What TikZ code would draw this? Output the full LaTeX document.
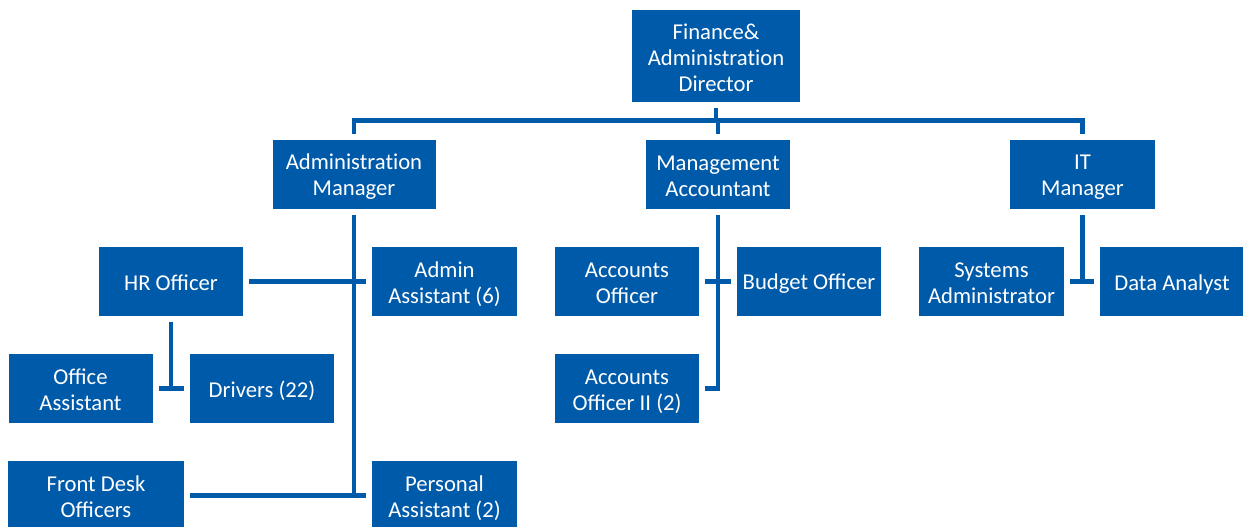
\documentclass[tikz,border=0pt]{standalone}
\usepackage{fontspec}
\setmainfont{Carlito}
\usetikzlibrary{calc}
\definecolor{orgblue}{RGB}{0,90,170}
\newcommand{\Adm}{Administrat\kern0pt ion}
\newcommand{\topstr}{\rule{0pt}{15.5pt}}
\newcommand{\botstr}{\rule[-1.5pt]{0pt}{1.5pt}}
\tikzset{
  box/.style={fill=orgblue, draw=none, text=white, align=center, inner sep=0pt,
    minimum width=108pt, minimum height=51.75pt,
    font=\fontsize{17}{19.6}\selectfont},
  conn/.style={draw=orgblue, line width=3.5pt},
  gap/.style={shorten <=4.5pt, shorten >=4.5pt},
  gapstart/.style={shorten <=4.5pt},
  gapend/.style={shorten >=4.5pt}
}
\begin{document}
\begin{tikzpicture}[x=0.75pt,y=-0.75pt]
\clip (0,0) rectangle (1243,527);
\fill[white] (0,0) rectangle (1243,527);
% nodes
\node[box, minimum width=126pt, minimum height=69pt] (dir) at (716,56) {\topstr Finance\&\\\Adm\\Director\botstr};
\node[box, minimum width=122.25pt] (am) at (354,174.5) {\topstr\Adm\\Manager\botstr};
\node[box] (ma) at (718,174.5) {\topstr Management\\Accountant\botstr};
\node[box, minimum width=108.75pt] (it) at (1082.5,174.5) {\topstr IT\\Manager\botstr};
\node[box] (hr) at (171,281.5) {\topstr HR Officer\botstr};
\node[box, minimum width=108.75pt] (aa) at (444.5,281.5) {\topstr Admin\\Assistant (6)\botstr};
\node[box] (oa) at (80.5,388.5) {\topstr Office\\Assistant\botstr};
\node[box] (dr) at (262,388.5) {\topstr Drivers (22)\botstr};
\node[box, minimum width=132pt] (fd) at (96,495.5) {\topstr Front Desk\\Officers\botstr};
\node[box, minimum width=108.75pt] (pa) at (444.5,495.5) {\topstr Personal\\Assistant (2)\botstr};
\node[box] (ao) at (627,281.5) {\topstr Accounts\\Officer\botstr};
\node[box] (bo) at (809,281.5) {\topstr Budget Officer\botstr};
\node[box] (ao2) at (627,388.5) {\topstr Accounts\\Officer II (2)\botstr};
\node[box, minimum width=108.75pt] (sa) at (991.5,281.5) {\topstr Systems\\Administrator\botstr};
\node[box] (da) at (1172,281.5) {\topstr Data Analyst\botstr};
\coordinate (bus) at (0,120.5);
% top level connectors
\draw[conn, gapstart] (dir.south) -- (dir.south |- bus);
\draw[conn, gap] (am.north) -- (am.north |- bus) -- (it.north |- bus) -- (it.north);
\draw[conn, gapend] (ma.north |- bus) -- (ma.north);
% administration manager
\draw[conn, gapstart] (am.south) -- (am.south |- pa.west);
\draw[conn, gap] (hr.east) -- (aa.west);
\draw[conn, gap] (fd.east) -- (pa.west);
% HR officer
\draw[conn, gapstart] (hr.south) -- (hr.south |- oa.east);
\draw[conn, gap] (oa.east) -- (dr.west);
% management accountant
\draw[conn, gap] (ma.south) -- (ma.south |- ao2.east) -- (ao2.east);
\draw[conn, gap] (ao.east) -- (bo.west);
% IT manager
\draw[conn, gapstart] (it.south) -- (it.south |- sa.east);
\draw[conn, gap] (sa.east) -- (da.west);
\end{tikzpicture}
\end{document}
